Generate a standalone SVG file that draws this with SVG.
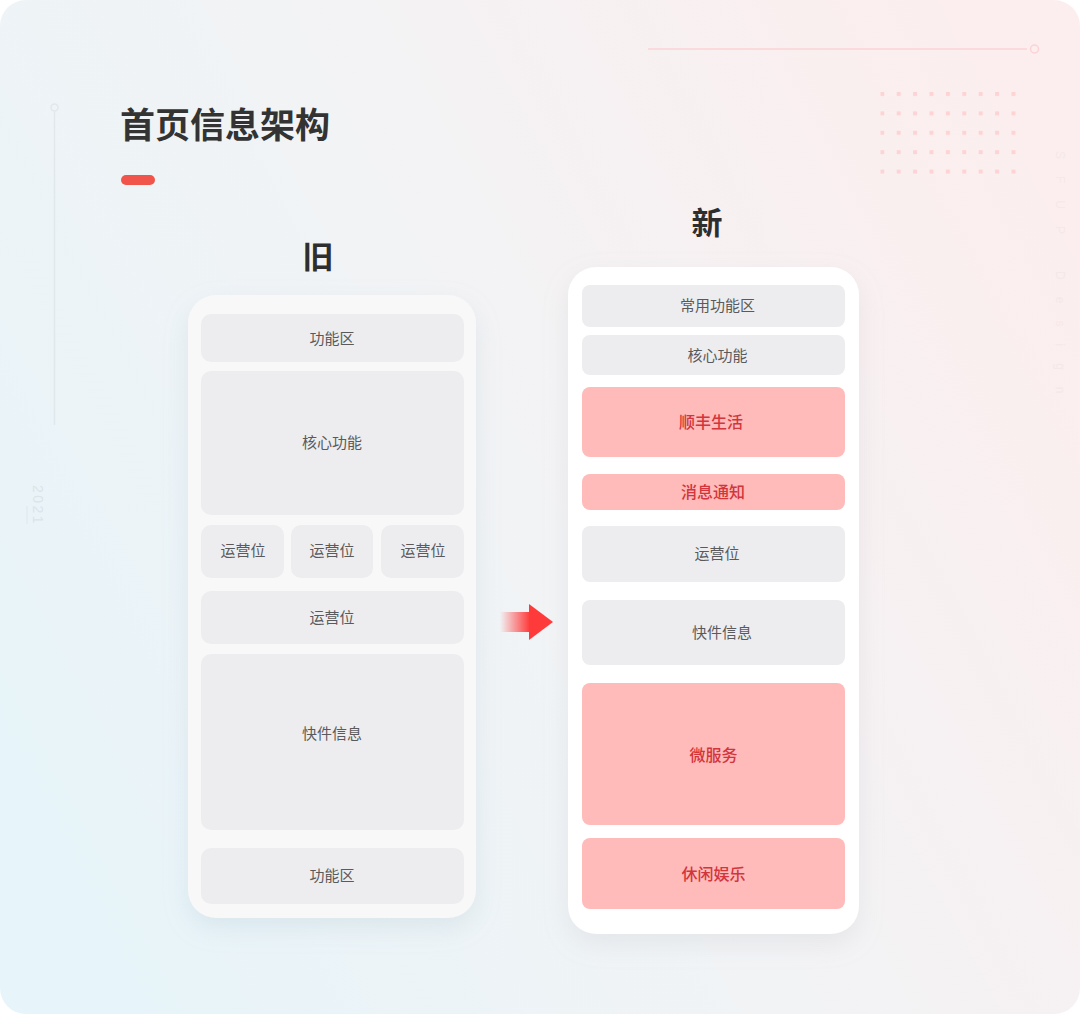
<svg xmlns="http://www.w3.org/2000/svg" width="1080" height="1014" viewBox="0 0 1080 1014">
  <defs>
    <linearGradient id="bg" x1="0" y1="0.75" x2="1" y2="0.25">
      <stop offset="0" stop-color="#e7f4f9"/>
      <stop offset="0.5" stop-color="#f2f3f5"/>
      <stop offset="1" stop-color="#fceeee"/>
    </linearGradient>
    <linearGradient id="shaft" x1="0" y1="0" x2="1" y2="0">
      <stop offset="0" stop-color="#ff3a3a" stop-opacity="0"/>
      <stop offset="1" stop-color="#ff3a3a" stop-opacity="1"/>
    </linearGradient>
    <filter id="shL" x="-20%" y="-10%" width="140%" height="125%">
      <feDropShadow dx="0" dy="10" stdDeviation="12" flood-color="#9fb8c4" flood-opacity="0.22"/>
    </filter>
    <filter id="shR" x="-20%" y="-10%" width="140%" height="125%">
      <feDropShadow dx="0" dy="10" stdDeviation="12" flood-color="#b0b4ba" flood-opacity="0.2"/>
    </filter>
    <pattern id="dots" x="880.3" y="92" width="16.4" height="19.4" patternUnits="userSpaceOnUse">
      <rect x="0" y="0" width="4" height="4" fill="#fdd3d4"/>
    </pattern>
  </defs>
  <style>
    .cjk { font-family: "Noto Sans CJK SC", "Noto Sans", sans-serif; }
    .lbl { font-size: 15px; fill: #5a5a5c; text-anchor: middle; dominant-baseline: central; }
    .red { font-size: 16px; fill: #d2353c; font-weight: 500; text-anchor: middle; dominant-baseline: central; }
    .head { font-size: 31px; fill: #2e2e2e; font-weight: 700; text-anchor: middle; dominant-baseline: central; }
    .gbox { fill: #ededef; }
    .pbox { fill: #ffbaba; }
  </style>

  <rect x="0" y="0" width="1080" height="1014" fill="#ffffff"/>
  <rect x="0" y="0" width="1080" height="1014" rx="26" fill="url(#bg)"/>

  <!-- decorations -->
  <g id="decor">
    <line x1="54.5" y1="112" x2="54.5" y2="425" stroke="#e1e8ec" stroke-width="1.5"/>
    <circle cx="54.5" cy="107.5" r="3.5" fill="none" stroke="#e1e8ec" stroke-width="1.5"/>
    <text x="0" y="0" transform="translate(33 485) rotate(90)" font-family="Liberation Sans, sans-serif" font-size="14" letter-spacing="2.5" fill="#dbe4e8">2021</text>
    <line x1="27" y1="506" x2="27" y2="524" stroke="#dfe6ea" stroke-width="1"/>
    <line x1="648" y1="49" x2="1027" y2="49" stroke="#fbd3d5" stroke-width="1.5"/>
    <circle cx="1034.5" cy="49" r="4" fill="none" stroke="#fbd3d5" stroke-width="1.5"/>
    <rect x="880.3" y="92" width="137" height="82" fill="url(#dots)"/>
    <text x="0" y="0" transform="translate(1056 151) rotate(90)" font-family="Liberation Sans, sans-serif" font-size="12" letter-spacing="17" fill="#f5e8e9">SFUP Design</text>
  </g>

  <!-- title -->
  <g id="title">
    <text class="cjk" x="120" y="122" font-size="35" font-weight="700" fill="#333333" dominant-baseline="central">首页信息架构</text>
    <rect x="121" y="175" width="34" height="10" rx="5" fill="#f0544a"/>
  </g>

  <text class="cjk head" x="318" y="254">旧</text>
  <text class="cjk head" x="707" y="220.5">新</text>

  <!-- old phone -->
  <g id="old-phone">
    <rect x="188" y="295" width="288" height="623" rx="28" fill="#f8f8f8" filter="url(#shL)"/>
    <g id="old-func-top"><rect class="gbox" x="201" y="314" width="263" height="48" rx="10"/><text class="cjk lbl" x="332" y="337">功能区</text></g>
    <g id="old-core"><rect class="gbox" x="201" y="371" width="263" height="144" rx="10"/><text class="cjk lbl" x="332" y="441.5">核心功能</text></g>
    <g id="old-op1"><rect class="gbox" x="201" y="525" width="83" height="53" rx="10"/><text class="cjk lbl" x="243" y="549.5">运营位</text></g>
    <g id="old-op2"><rect class="gbox" x="291" y="525" width="82" height="53" rx="10"/><text class="cjk lbl" x="332" y="549.5">运营位</text></g>
    <g id="old-op3"><rect class="gbox" x="381" y="525" width="83" height="53" rx="10"/><text class="cjk lbl" x="423" y="549.5">运营位</text></g>
    <g id="old-op-wide"><rect class="gbox" x="201" y="591" width="263" height="53" rx="10"/><text class="cjk lbl" x="332" y="616">运营位</text></g>
    <g id="old-express"><rect class="gbox" x="201" y="654" width="263" height="176" rx="10"/><text class="cjk lbl" x="332" y="732.5">快件信息</text></g>
    <g id="old-func-bottom"><rect class="gbox" x="201" y="848" width="263" height="56" rx="10"/><text class="cjk lbl" x="332" y="874.5">功能区</text></g>
  </g>

  <!-- connector -->
  <g id="connectors">
    <rect x="500" y="612" width="30" height="20" fill="url(#shaft)"/>
    <polygon points="529,604 553,622 529,640" fill="#ff3a3a"/>
  </g>

  <!-- new phone -->
  <g id="new-phone">
    <rect x="568" y="267" width="291" height="667" rx="28" fill="#ffffff" filter="url(#shR)"/>
    <g id="new-common"><rect class="gbox" x="582" y="285" width="263" height="42" rx="8"/><text class="cjk lbl" x="717.5" y="304.5">常用功能区</text></g>
    <g id="new-core"><rect class="gbox" x="582" y="335" width="263" height="40" rx="8"/><text class="cjk lbl" x="717.5" y="354.5">核心功能</text></g>
    <g id="new-life"><rect class="pbox" x="582" y="387" width="263" height="70" rx="8"/><text class="cjk red" x="711" y="420.5">顺丰生活</text></g>
    <g id="new-notice"><rect class="pbox" x="582" y="474" width="263" height="36" rx="8"/><text class="cjk red" x="713" y="490.5">消息通知</text></g>
    <g id="new-op"><rect class="gbox" x="582" y="526" width="263" height="56" rx="8"/><text class="cjk lbl" x="717" y="552.5">运营位</text></g>
    <g id="new-express"><rect class="gbox" x="582" y="600" width="263" height="65" rx="8"/><text class="cjk lbl" x="722" y="631">快件信息</text></g>
    <g id="new-micro"><rect class="pbox" x="582" y="683" width="263" height="142" rx="8"/><text class="cjk red" x="713.5" y="753.5">微服务</text></g>
    <g id="new-leisure"><rect class="pbox" x="582" y="838" width="263" height="71" rx="8"/><text class="cjk red" x="713.5" y="872.5">休闲娱乐</text></g>
  </g>
</svg>
